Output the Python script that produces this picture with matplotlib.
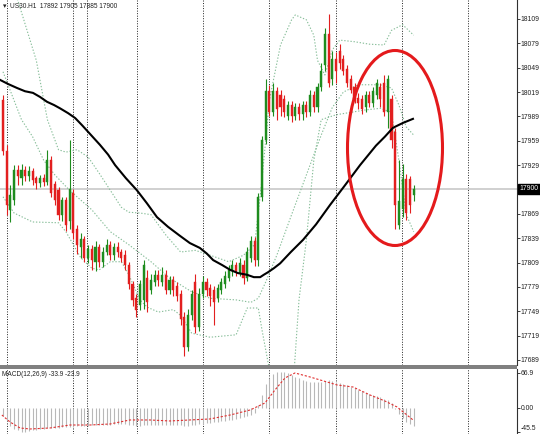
import matplotlib
matplotlib.use("Agg")
import matplotlib.pyplot as plt
from matplotlib.patches import Ellipse, Rectangle
import numpy as np

# ---------------- data ----------------
opens = [18009,17947,17874,17886,17923,17913,17923,17916,17922,17913,17907,17913,17908,17935,17906,17898,17868,17886,17860,17895,
         17850,17828,17838,17815,17826,17810,17828,17810,17822,17831,17818,17828,17822,17818,17806,17782,17765,17757,17763,17790,
         17775,17785,17794,17785,17794,17775,17788,17780,17770,17742,17705,17745,17785,17730,17770,17785,17778,17775,17765,17775,
         17783,17790,17798,17806,17796,17806,17790,17815,17835,17812,17890,17960,18020,17995,18020,18015,18010,17990,18003,17990,
         18000,17992,18003,17995,18015,18000,18025,18052,18090,18035,18060,18070,18060,18048,18035,18025,18012,18010,18000,18015,
         18005,18015,18025,18030,17995,18010,17970,17855,17875,17912,17912,17892]
highs = [18015,17954,17905,17929,17929,17930,17928,17928,17926,17916,17917,17918,17948,17940,17910,17902,17890,17890,17960,17900,
         17855,17845,17842,17830,17830,17835,17832,17828,17838,17836,17833,17834,17826,17824,17810,17786,17770,17788,17812,17800,
         17795,17800,17800,17803,17800,17793,17792,17785,17775,17748,17752,17775,17795,17778,17792,17790,17783,17780,17783,17790,
         17798,17806,17812,17810,17814,17812,17828,17842,17840,17895,17965,18035,18028,18030,18025,18022,18015,18008,18008,18005,
         18005,18008,18008,18022,18020,18030,18055,18098,18115,18070,18068,18078,18065,18052,18040,18030,18018,18015,18020,18020,
         18025,18035,18030,18040,18040,18015,17975,17935,17930,17918,17916,17905]
lows = [17941,17868,17859,17880,17905,17905,17909,17910,17905,17900,17902,17903,17904,17890,17880,17862,17860,17848,17850,17838,
        17820,17815,17810,17808,17800,17798,17803,17804,17818,17812,17812,17816,17810,17800,17776,17755,17742,17750,17752,17748,
        17770,17780,17780,17780,17770,17770,17768,17762,17732,17694,17700,17738,17722,17725,17765,17768,17755,17732,17760,17770,
        17778,17786,17793,17792,17792,17782,17786,17810,17805,17805,17885,17955,17990,17990,17985,17990,17988,17985,17982,17985,
        17985,17985,17988,17990,17995,17995,18020,18045,18025,18028,18030,18048,18040,18025,18018,18005,17998,17992,17995,18000,
        18000,18010,18000,17990,17975,17950,17850,17850,17865,17862,17870,17885]
closes = [17947,17880,17892,17923,17915,17923,17916,17922,17911,17907,17913,17908,17935,17895,17886,17868,17886,17855,17900,17845,
          17830,17838,17815,17826,17812,17828,17810,17822,17831,17818,17828,17822,17815,17806,17782,17763,17751,17782,17806,17760,
          17788,17794,17788,17794,17775,17788,17775,17768,17740,17705,17745,17770,17730,17770,17785,17775,17768,17760,17778,17785,
          17792,17800,17806,17798,17808,17790,17822,17835,17812,17890,17960,18020,17995,18020,17998,18000,17995,18003,17990,18000,
          17992,18003,17995,18015,18000,18025,18045,18090,18030,18060,18045,18055,18045,18030,18022,18010,18005,17998,18015,18005,
          18020,18030,18010,17995,18035,17960,17880,17885,17912,17870,17880,17900]

# moving average (black), sampled points: bar index, price
ma_bar = [-0.8, 1.35, 3.8, 5.95, 8.1, 10.0, 11.9, 13.8, 15.4, 17.6, 19.5, 21.4, 23.0, 24.6, 26.2, 28.4, 30.3, 33.2, 36.2,
          38.9, 41.6, 44.6, 47.8, 50.5, 53.2, 55.1, 56.8, 59.2, 61.4, 63.5, 65.9, 67.8, 69.5, 70.5, 71.6, 73.2, 74.9, 77.8,
          81.1, 84.6, 88.4, 92.4, 96.5, 100.8, 103.2, 105.4, 108.1, 110.8]
ma_val = [18034, 18029, 18024, 18020, 18018, 18013, 18007, 18003, 17999, 17993, 17987, 17978, 17970, 17962, 17954, 17942, 17929, 17913, 17898,
          17882, 17865, 17853, 17842, 17833, 17827, 17820, 17812, 17806, 17800, 17796, 17794, 17791, 17791, 17794, 17797, 17802, 17808, 17822,
          17837, 17856, 17880, 17904, 17929, 17953, 17964, 17975, 17981, 17986]

# Bollinger bands (dotted), sampled points
bb_up_bar = [0, 4, 9, 12, 15, 17, 20, 23, 26, 29, 32, 34, 37, 40, 44, 48, 52, 56, 61, 65, 68, 70, 72, 75, 78, 79, 82, 84, 85, 87, 89, 91, 95, 99, 103, 105, 108, 111]
bb_up_val = [18190, 18132, 18058, 17985, 17948, 17945, 17948, 17939, 17919, 17898, 17877, 17871, 17870, 17868, 17843, 17822, 17824, 17818, 17810, 17818, 17831, 17911, 18009, 18077, 18108, 18114, 18108, 18089, 18058, 18040, 18071, 18083, 18081, 18078, 18077, 18095, 18102, 18089]
bb_mid_bar = [0, 5, 8, 11, 14, 18, 24, 29, 34, 40, 45, 51, 56, 63, 67, 69, 71, 74, 78, 82, 86, 89, 92, 96, 102, 105, 107, 109, 111]
bb_mid_val = [18044, 17985, 17964, 17935, 17917, 17898, 17874, 17847, 17831, 17810, 17790, 17773, 17765, 17763, 17760, 17765, 17785, 17818, 17868, 17917, 17966, 18000, 18019, 18028, 18028, 18024, 18003, 17976, 17966]
bb_lo_bar = [0, 3, 8, 15, 17, 21, 24, 26, 29, 32, 34, 37, 39, 42, 46, 48, 51, 56, 63, 66, 69, 70, 72, 75, 78, 80, 82, 84, 86, 90, 94, 98, 102, 105, 107, 109, 111]
bb_lo_val = [17890, 17870, 17859, 17858, 17847, 17815, 17802, 17800, 17810, 17810, 17794, 17763, 17754, 17748, 17751, 17744, 17722, 17717, 17720, 17753, 17753, 17726, 17677, 17640, 17630, 17763, 17837, 17935, 17985, 17991, 17994, 17997, 17999, 17994, 17935, 17868, 17847]

# MACD histogram (per bar) and signal line (sampled)
macd = [-15,-25,-35,-40,-43, -45,-45,-44,-43,-42,-41,-40,-39, -38,-38,-38,-37,-37,-36,-36,-35,
        -35,-34,-34,-33,-33,-33,-32,-32,-32,-31, -31,-31,-31,-32,-33,-34,-34,-33,-33,-33,
        -32,-32,-32,-32,-32,-32,-32,-33,-34,-34, -33,-32,-31,-30,-29,-28,-27,-26,-25,-24,
        -23,-22,-21,-20,-18,-16,-13,-10,
        5,25,45,58,65,68,69,68,66,63, 60,57,54,52,50,49,49,50,52,53,
        52,50,48,46,44,41,38,35,32,29, 27,25,23,21,18,15,10,-2,-12,-20, -26,-31,-34]
sig_bar = [-0.3, 1.9, 4.6, 7.3, 12.7, 18.1, 23.5, 28.9, 34.3, 39.7, 45.1, 50.5, 55.9, 61.4, 66.8, 70.8, 73.5, 76.2, 78.9, 83.0, 90.3, 94.6, 99.2, 103.2, 106.5, 111]
sig_val = [-13.4, -26.8, -38.2, -40.1, -38.2, -32.5, -32.5, -30.6, -22.9, -22.9, -24.8, -22.9, -21.0, -13.4, -3.8, 9.6, 34.4, 57.3, 66.9, 59.2, 44.0, 40.1, 24.8, 13.4, 1.9, -23.9]

price_ticks = [18109, 18079, 18049, 18019, 17989, 17959, 17929, 17869, 17839, 17809, 17779, 17749, 17719, 17689]
macd_ticks = [66.9, 0.0, -45.5]
macd_tick_labels = ["66.9", "0.00", "-45.5"]
last_price = 17900
title_text = "US30.H1  17892 17905 17885 17900"
macd_text = "MACD(12,26,9) -33.9 -23.9"

# ---------------- layout ----------------
W, H = 540, 434
fig = plt.figure(figsize=(W / 100, H / 100), dpi=100)
fig.patch.set_facecolor("white")
FONT = "Liberation Sans"
plt.rcParams["font.family"] = [FONT, "DejaVu Sans"]

ax = fig.add_axes([0, 1 - 365 / H, 517 / W, 365 / H])
ax2 = fig.add_axes([0, 0, 517 / W, 65 / H], sharex=ax)

BAR_PX = 3.7
ax.set_xlim(-3 / BAR_PX, 514 / BAR_PX)
ax.set_ylim(17682.8, 18132.4)
ax2.set_ylim(-49.7, 74.5)

for a in (ax, ax2):
    for s in ("top", "left", "bottom"):
        a.spines[s].set_visible(False)
    a.spines["right"].set_color("#303030")
    a.spines["right"].set_linewidth(0.8)
    a.set_facecolor("white")
    a.tick_params(axis="x", which="both", bottom=False, labelbottom=False)
    a.yaxis.tick_right()
    a.tick_params(axis="y", direction="out", length=2.0, width=0.6, pad=0.8,
                  labelsize=4.9, colors="#202020")

# vertical dotted grid
grid_bars = [1.1, 18.9, 22.7, 36.2, 54.1, 71.9, 90.0, 107.8, 125.7]
for gb in grid_bars:
    for a in (ax, ax2):
        a.axvline(gb, color="#202020", lw=0.7, ls=(0, (1, 1.6)), zorder=1)

# current price line
ax.axhline(last_price, color="#c8c8c8", lw=1.2, zorder=1)

# Bollinger bands
bb_col = "#86bd98"
for bx, by in ((bb_up_bar, bb_up_val), (bb_mid_bar, bb_mid_val), (bb_lo_bar, bb_lo_val)):
    ax.plot(bx, by, color=bb_col, lw=0.8, ls=(0, (1.2, 1.6)), zorder=2)

# candles
x = np.arange(len(closes))
o = np.array(opens); h = np.array(highs); l = np.array(lows); c = np.array(closes)
up = c >= o
cols = np.where(up, "#1e8c1e", "#e21f1f")
ax.vlines(x, l, h, colors=cols, lw=0.8, zorder=3)
body_h = np.maximum(np.abs(c - o), 1.0)
ax.bar(x, body_h, bottom=np.minimum(o, c), width=0.55, color=cols, edgecolor=cols, lw=0.3, zorder=4)

# moving average
ax.plot(ma_bar, ma_val, color="black", lw=1.5, zorder=5)

# red ellipse annotation
ax.add_patch(Ellipse((395 / 517, 1 - 148 / 365), 95 / 517, 195 / 365, transform=ax.transAxes,
                     fill=False, edgecolor="#e41a1c", lw=2.2, zorder=6, clip_on=False))

# price axis labels
ax.set_yticks(price_ticks)
ax.set_yticklabels([str(t) for t in price_ticks])

# last price box
ax.annotate(str(last_price), xy=(1.0, last_price), xycoords=("axes fraction", "data"),
            xytext=(1.6, 0), textcoords="offset points", va="center", ha="left",
            fontsize=4.9, color="white",
            bbox=dict(boxstyle="square,pad=0.2", fc="black", ec="black"), zorder=10,
            annotation_clip=False)

# title text
ax.text(3 / 517, 1 - 6 / 365, "\u25be", transform=ax.transAxes, fontsize=5, va="center",
        ha="left", color="#202020", family=["DejaVu Sans"])
ax.text(10 / 517, 1 - 6 / 365, title_text, transform=ax.transAxes, fontsize=4.7, va="center",
        ha="left", color="#202020")

# separator between panels
fig.patches.append(Rectangle((0, 1 - 368.5 / H), 517 / W, 3.5 / H, transform=fig.transFigure,
                             facecolor="#808080", edgecolor="none", zorder=5))

# MACD panel
ax2.vlines(x, 0, macd, colors="#b8b8b8", lw=0.8, zorder=2)
ax2.plot(sig_bar, sig_val, color="#e03030", lw=0.8, ls=(0, (2, 1.6)), zorder=3)
ax2.set_yticks(macd_ticks)
ax2.set_yticklabels(macd_tick_labels)
ax2.get_yticklabels()[-1].set_verticalalignment("bottom")
ax2.text(2 / 517, 1 - 6 / 65, macd_text, transform=ax2.transAxes, fontsize=4.7,
         va="center", ha="left", color="#202020")

fig.savefig("out.png", dpi=100, facecolor="white")
